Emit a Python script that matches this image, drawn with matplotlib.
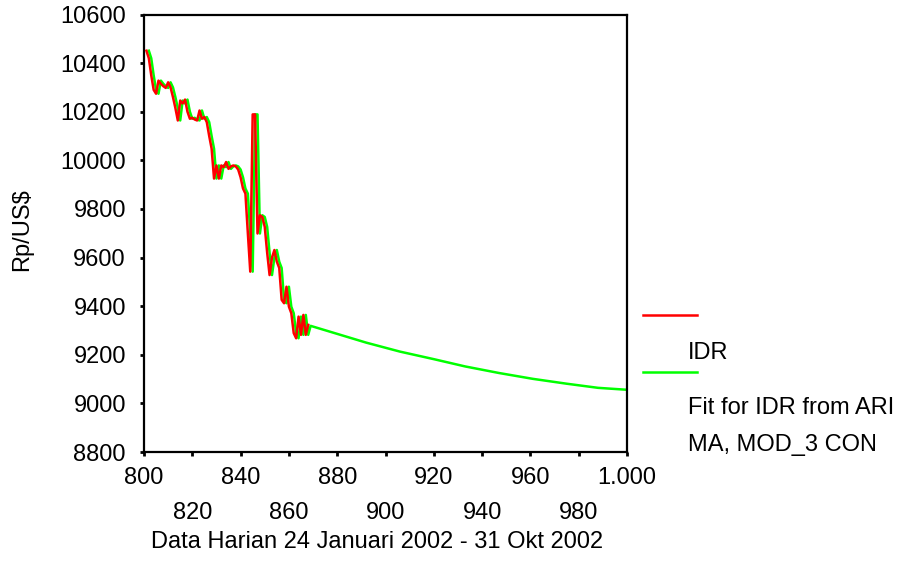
import matplotlib
matplotlib.use("Agg")
import matplotlib.pyplot as plt
from matplotlib.lines import Line2D
from matplotlib.ticker import FixedLocator

plt.rcParams['font.family'] = ['Liberation Sans', 'DejaVu Sans']

# Actual series (IDR), day index -> Rp/US$
idr_x = list(range(801, 869))
idr_y = [10451, 10420, 10350, 10290, 10274, 10328, 10315, 10305, 10298, 10321,
         10300, 10260, 10215, 10164, 10246, 10234, 10250, 10200, 10171, 10175,
         10168, 10164, 10205, 10171, 10178, 10157, 10100, 10048, 9925, 9979,
         9925, 9979, 9972, 9993, 9965, 9975, 9979, 9975, 9962, 9930,
         9884, 9863, 9700, 9542, 10189, 10189, 9699, 9774, 9767, 9726,
         9620, 9528, 9600, 9631, 9583, 9557, 9426, 9412, 9480, 9398,
         9371, 9289, 9268, 9357, 9282, 9364, 9282, 9323]

# Fitted values (in-sample) followed by forecast
fit_x = list(range(802, 869)) + [869, 878, 892, 906, 920, 933, 947, 961, 975, 988, 1000]
fit_y = [10451, 10420, 10350, 10290, 10274, 10328, 10315, 10305, 10298, 10321,
         10300, 10260, 10215, 10164, 10246, 10234, 10250, 10200, 10171, 10175,
         10168, 10164, 10205, 10171, 10178, 10157, 10100, 10048, 9925, 9979,
         9925, 9979, 9972, 9993, 9965, 9975, 9979, 9975, 9962, 9930,
         9884, 9863, 9700, 9542, 10189, 10189, 9699, 9774, 9767, 9726,
         9620, 9528, 9600, 9631, 9583, 9557, 9426, 9412, 9480, 9398,
         9371, 9289, 9268, 9357, 9282, 9364, 9282,
         9319, 9292, 9250, 9213, 9182, 9152, 9125, 9101, 9081, 9064, 9056]

x_major = [800, 840, 880, 920, 960, 1000]
x_major_labels = ['800', '840', '880', '920', '960', '1.000']
x_minor = [820, 860, 900, 940, 980]
x_minor_labels = ['820', '860', '900', '940', '980']
y_ticks = [8800, 9000, 9200, 9400, 9600, 9800, 10000, 10200, 10400, 10600]

legend_labels = ['', 'IDR', 'Fit for IDR from ARI', 'MA, MOD_3 CON']

FS = 17

fig = plt.figure(figsize=(9, 5.76), dpi=100)
ax = fig.add_axes([144/900, 1 - 452/576, (627 - 144)/900, (452 - 14.5)/576])

ax.plot(fit_x, fit_y, color='#00ff00', lw=1.8, zorder=2)
ax.plot(idr_x, idr_y, color='#ff0000', lw=1.8, zorder=3)

ax.set_xlim(800, 1000)
ax.set_ylim(8800, 10600)

ax.xaxis.set_major_locator(FixedLocator(x_major))
ax.set_xticklabels(x_major_labels)
ax.set_xticks(x_minor, labels=x_minor_labels, minor=True)
ax.set_yticks(y_ticks)
ax.set_yticklabels([str(v) for v in y_ticks])

ax.tick_params(axis='both', which='both', direction='out', length=3, width=2,
               labelsize=FS, colors='black')
ax.tick_params(axis='x', which='major', pad=8)
ax.tick_params(axis='x', which='minor', pad=33)
ax.tick_params(axis='y', which='major', pad=10)

for sp in ax.spines.values():
    sp.set_linewidth(1.6)
    sp.set_color('black')

fig.text(22/900, 1 - 230/576, 'Rp/US$', fontsize=FS, rotation=90,
         ha='center', va='center')
fig.text(377/900, 1 - 542/576, 'Data Harian 24 Januari 2002 - 31 Okt 2002',
         fontsize=FS, ha='center', va='center')

# legend
fig.add_artist(Line2D([643/900, 697/900], [1 - 315/576, 1 - 315/576], color='#ff0000', lw=1.8))
fig.add_artist(Line2D([643/900, 697/900], [1 - 371.5/576, 1 - 371.5/576], color='#00ff00', lw=1.8))
fig.text(688/900, 1 - 353/576, legend_labels[1], fontsize=FS, ha='left', va='center')
fig.text(688/900, 1 - 408/576, legend_labels[2], fontsize=FS, ha='left', va='center')
fig.text(688/900, 1 - 445/576, legend_labels[3], fontsize=FS, ha='left', va='center')

fig.savefig('out.png', dpi=100)
